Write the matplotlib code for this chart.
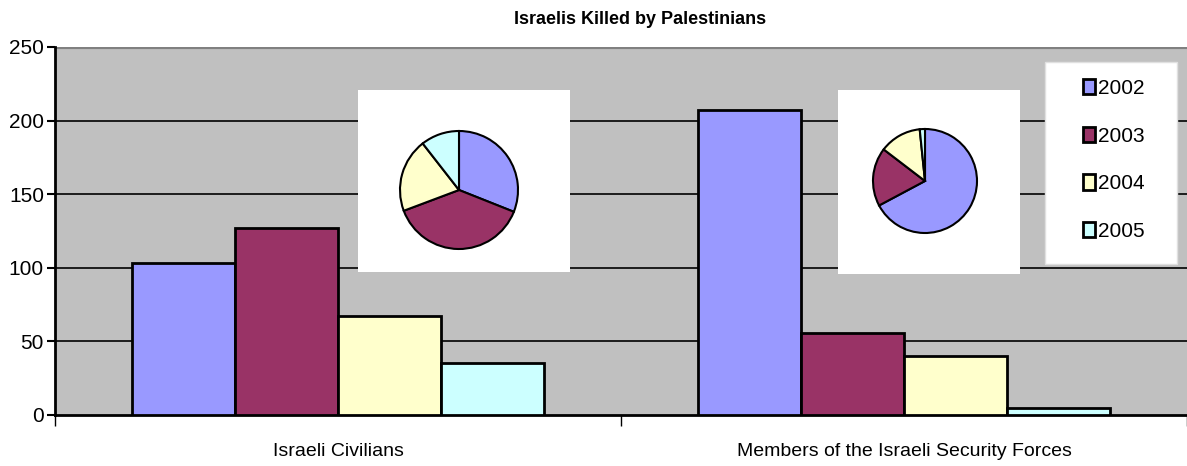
import matplotlib.pyplot as plt
from matplotlib.patches import Rectangle
import numpy as np

plt.rcParams['font.family'] = ['Liberation Sans Narrow', 'Liberation Sans', 'DejaVu Sans']

categories = ['Israeli Civilians', 'Members of the Israeli Security Forces']
years = ['2002', '2003', '2004', '2005']
civilians = [103, 127, 67, 35]
security = [207, 56, 40, 5]
colors = ['#9999FF', '#993366', '#FFFFCC', '#CCFFFF']

W, H = 1187, 466
fig = plt.figure(figsize=(W / 100, H / 100), dpi=100)

ax = fig.add_axes([55 / W, 1 - 415 / H, 1 - 55 / W, (415 - 47) / H])
ax.set_facecolor('#C0C0C0')

values = np.array([civilians, security])
centers = np.array([0.5, 1.5])
bw = 0.182
for i, yr in enumerate(years):
    ax.bar(centers + (i - 1.5) * bw, values[:, i], width=bw, color=colors[i],
           edgecolor='black', linewidth=2, label=yr, zorder=3)

ax.set_xlim(0, 2)
ax.set_ylim(0, 250)
ax.set_yticks([0, 50, 100, 150, 200, 250])
for y in [50, 100, 150, 200]:
    ax.axhline(y, color='black', lw=1.2, zorder=1)
ax.axhline(250, color='#808080', lw=3, zorder=1)

ax.set_xticks([0, 1, 2])
ax.set_xticklabels([])
ax.set_xticks(centers, minor=True)
ax.set_xticklabels(categories, minor=True)
ax.tick_params(axis='x', which='minor', length=0, pad=20, labelsize=14)
ax.tick_params(axis='x', which='major', length=8, width=1, direction='out')
ax.tick_params(axis='y', length=6, width=1.5, labelsize=15, pad=2)
for s in ['top', 'right']:
    ax.spines[s].set_visible(False)
ax.spines['left'].set_linewidth(2)
ax.spines['bottom'].set_linewidth(2)

fig.text(640 / W, 1 - 20 / H, 'Israelis Killed by Palestinians', ha='center', va='center',
         fontsize=13, fontweight='bold')

# inset pies (box in pixel units)
insets = [
    ((358, 90, 570, 272), (459, 190), 59, civilians),
    ((838, 90, 1020, 274), (925, 181), 52, security),
]
for (x0, y0, x1, y1), (cx, cy), r, vals in insets:
    pax = fig.add_axes([x0 / W, 1 - y1 / H, (x1 - x0) / W, (y1 - y0) / H])
    pax.pie(vals, colors=colors, startangle=90, counterclock=False,
            center=(cx - x0, y1 - cy), radius=r,
            wedgeprops=dict(edgecolor='black', linewidth=1.5))
    pax.set_xlim(0, x1 - x0)
    pax.set_ylim(0, y1 - y0)
    pax.set_aspect('auto')
    pax.set_frame_on(True)
    pax.set_facecolor('white')
    pax.set_xticks([])
    pax.set_yticks([])
    for s in pax.spines.values():
        s.set_visible(False)

# legend box
fig.patches.append(Rectangle((1045 / W, 1 - 264 / H), 132 / W, 202 / H,
                             transform=fig.transFigure, facecolor='white',
                             edgecolor='#E0E0E0', lw=1, zorder=5))
handles, labels = ax.get_legend_handles_labels()
leg = fig.legend(handles, labels, loc='center',
                 bbox_to_anchor=(1114 / W, 1 - 160 / H), frameon=False,
                 fontsize=15, handlelength=0.55, handleheight=0.75, handletextpad=0.15,
                 labelspacing=1.38, borderpad=0, borderaxespad=0)
leg.set_zorder(6)

fig.savefig('out.png', dpi=100)
